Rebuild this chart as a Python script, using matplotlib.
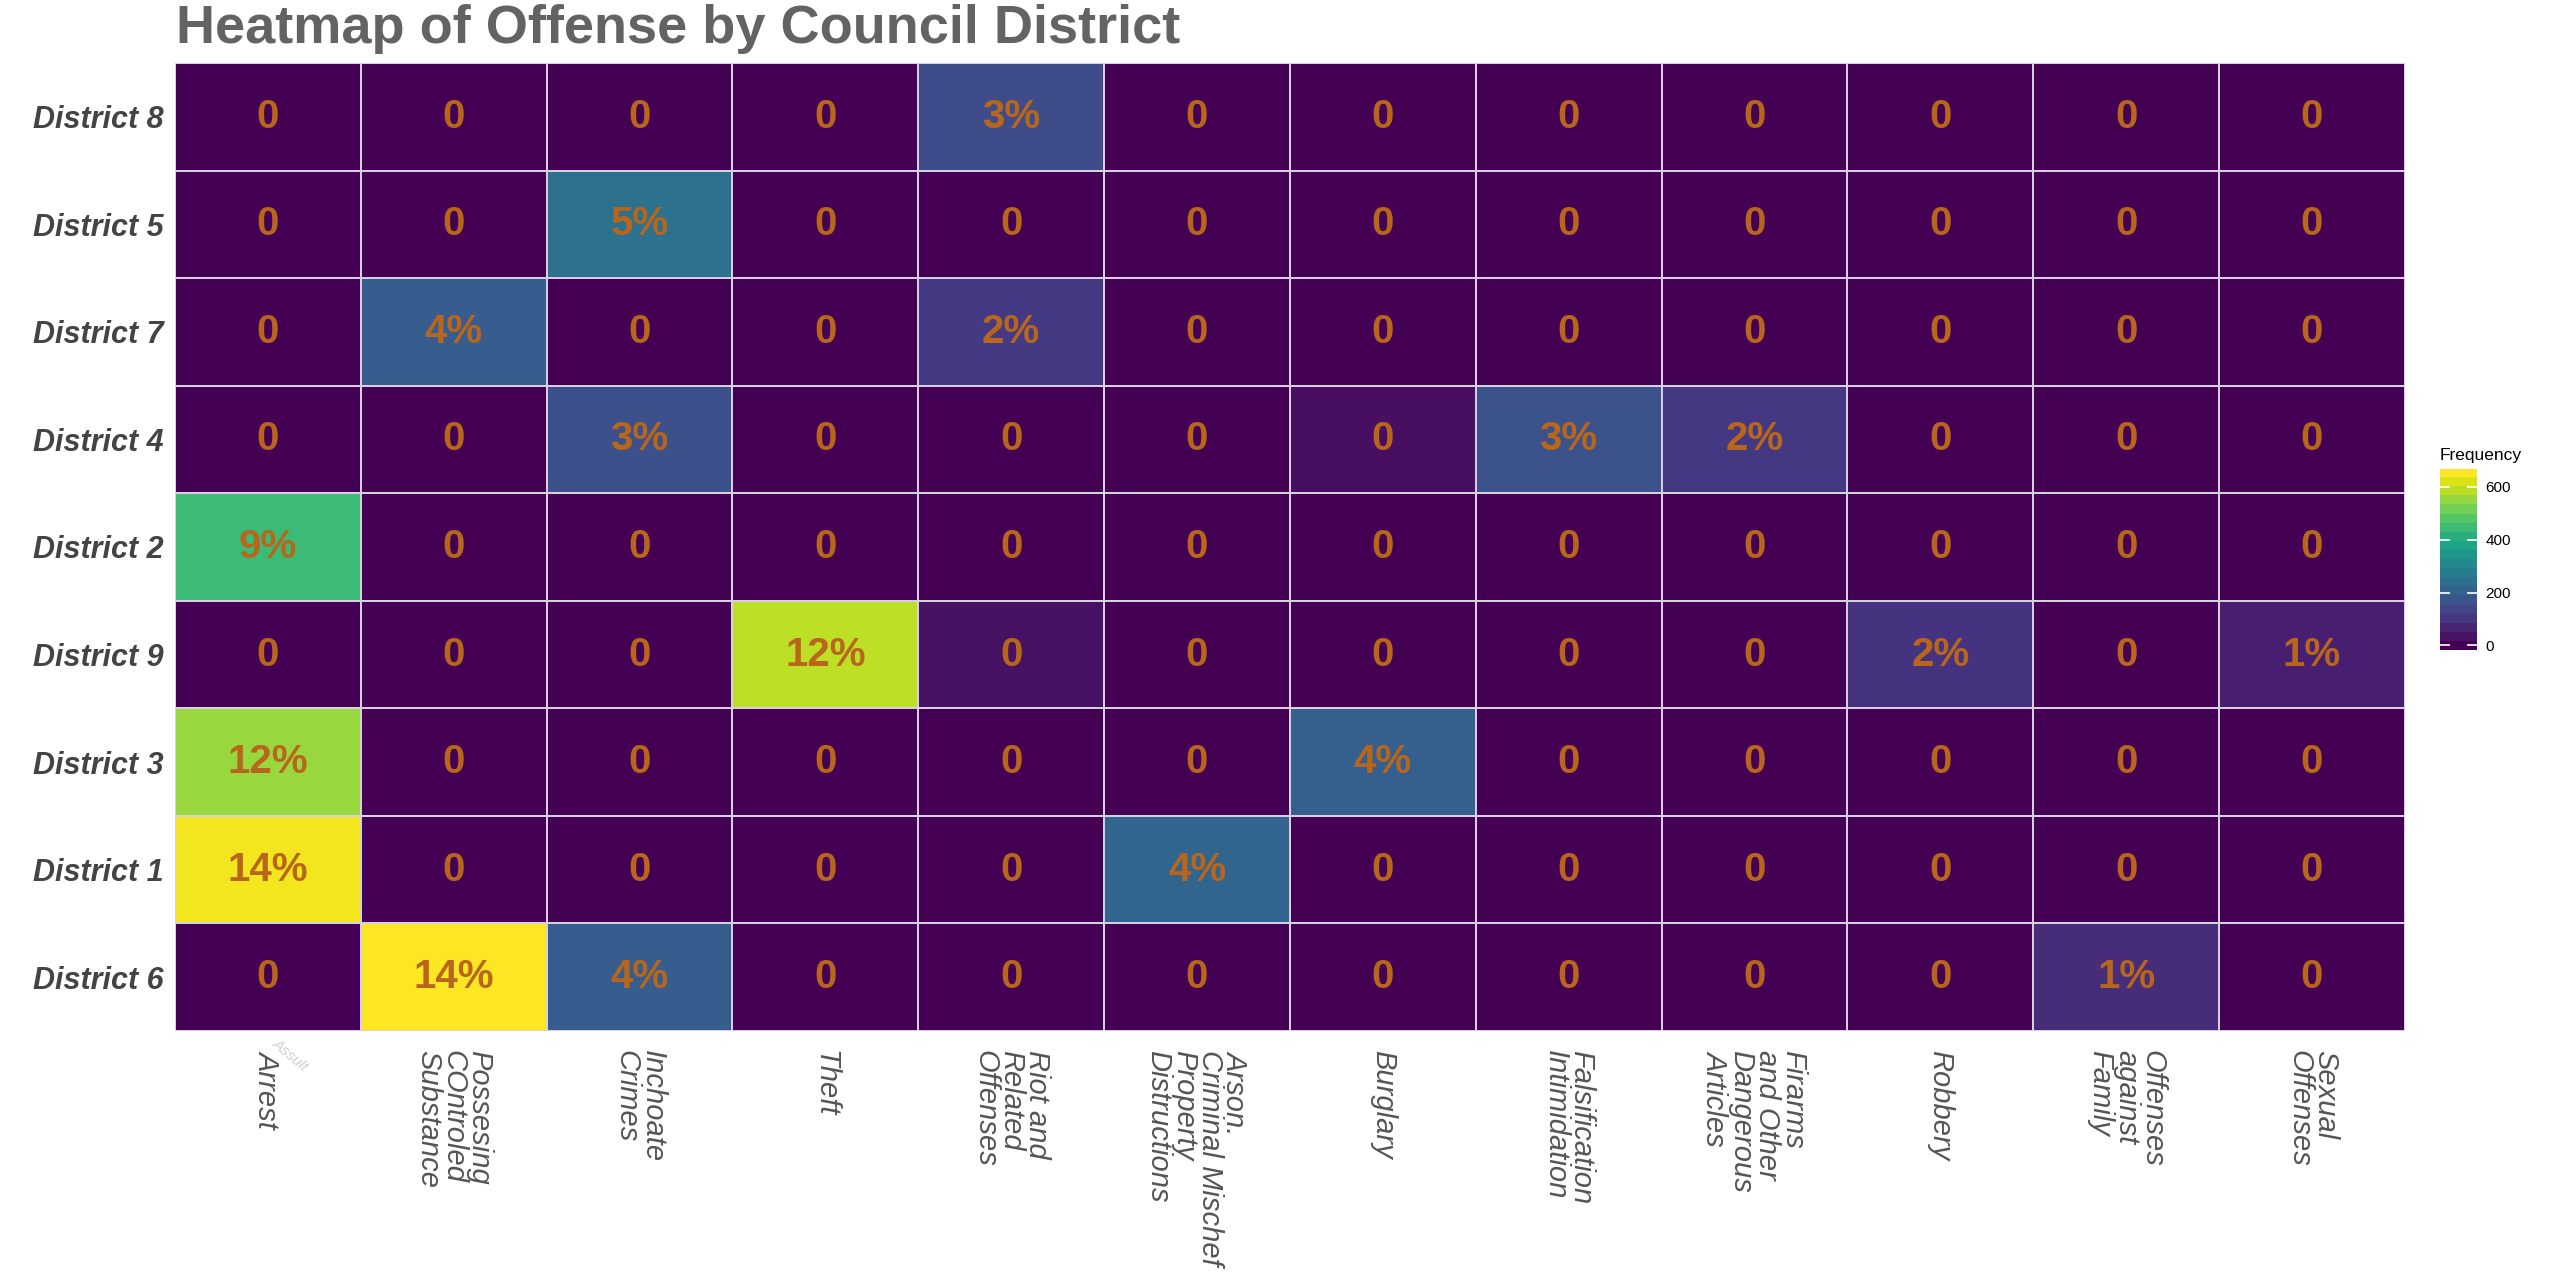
import numpy as np
import matplotlib
matplotlib.use("Agg")
import matplotlib.pyplot as plt
from matplotlib.colors import Normalize

# rows as shown, top to bottom
districts = ["District 8", "District 5", "District 7", "District 4", "District 2",
             "District 9", "District 3", "District 1", "District 6"]
offenses = ["Arrest",
            "Possesing\nCOntroled\nSubstance",
            "Inchoate\nCrimes",
            "Theft",
            "Riot and\nRelated\nOffenses",
            "Arson.\nCriminal Mischef\nProperty\nDistructions",
            "Burglary",
            "Falsification\nIntimidation",
            "Firarms\nand Other\nDangerous\nArticles",
            "Robbery",
            "Offenses\nagainst\nFamily",
            "Sexual\nOffenses"]

# estimated counts read from the tile colours
freq = [
    [0,   0,   0,   0,   150, 0,   0,   0,   0,   0,  0,  0],
    [0,   0,   245, 0,   0,   0,   0,   0,   0,   0,  0,  0],
    [0,   190, 0,   0,   110, 0,   0,   0,   0,   0,  0,  0],
    [0,   0,   160, 0,   0,   0,   25,  165, 105, 0,  0,  0],
    [445, 0,   0,   0,   0,   0,   0,   0,   0,   0,  0,  0],
    [0,   0,   0,   585, 30,  0,   0,   0,   0,   95, 0,  55],
    [550, 0,   0,   0,   0,   0,   195, 0,   0,   0,  0,  0],
    [640, 0,   0,   0,   0,   210, 0,   0,   0,   0,  0,  0],
    [0,   651, 190, 0,   0,   0,   0,   0,   0,   0,  80, 0],
]

pct = [
    ["0", "0", "0", "0", "3%", "0", "0", "0", "0", "0", "0", "0"],
    ["0", "0", "5%", "0", "0", "0", "0", "0", "0", "0", "0", "0"],
    ["0", "4%", "0", "0", "2%", "0", "0", "0", "0", "0", "0", "0"],
    ["0", "0", "3%", "0", "0", "0", "0", "3%", "2%", "0", "0", "0"],
    ["9%", "0", "0", "0", "0", "0", "0", "0", "0", "0", "0", "0"],
    ["0", "0", "0", "12%", "0", "0", "0", "0", "0", "2%", "0", "1%"],
    ["12%", "0", "0", "0", "0", "0", "4%", "0", "0", "0", "0", "0"],
    ["14%", "0", "0", "0", "0", "4%", "0", "0", "0", "0", "0", "0"],
    ["0", "14%", "4%", "0", "0", "0", "0", "0", "0", "0", "1%", "0"],
]

cbar_ticks = [0, 200, 400, 600]

plt.rcParams["font.family"] = ["Liberation Sans", "DejaVu Sans"]

fig = plt.figure(figsize=(25.5, 12.75), dpi=100)
ax = fig.add_axes([0.0686, 0.1914, 0.8745, 0.7592])

data = np.array(freq, dtype=float)
norm = Normalize(vmin=0, vmax=data.max())
nr, nc = data.shape
mesh = ax.pcolormesh(np.arange(nc + 1), np.arange(nr + 1), data, cmap="viridis",
                     norm=norm, edgecolors="#d9cfe3", linewidth=1.3)
ax.set_xlim(0, nc)
ax.set_ylim(nr, 0)

for i in range(nr):
    for j in range(nc):
        ax.text(j + 0.5, i + 0.5, pct[i][j], ha="center", va="center",
                fontsize=29, fontweight="bold", color="#b8661c")

ax.set_xticks(np.arange(nc) + 0.5)
ax.set_xticklabels(offenses, rotation=270, ha="center", va="top",
                   multialignment="left", fontsize=21, style="italic",
                   color="#555555", linespacing=0.9)
ax.set_yticks(np.arange(nr) + 0.5)
ax.set_yticklabels(districts, fontsize=22, fontweight="bold", style="italic",
                   color="#444444")
ax.tick_params(length=0, pad=8)
ax.tick_params(axis="x", pad=14)
for s in ax.spines.values():
    s.set_visible(False)

# faint overlapping label left under the first column
ax.text(0.62, -0.025, "Assult", transform=ax.get_xaxis_transform(), rotation=-40,
        ha="center", va="center", fontsize=11, color="#cfcfcf", style="italic")

fig.text(0.069, 0.977, "Heatmap of Offense by Council District", ha="left",
         va="center", fontsize=39, fontweight="bold", color="#636363")

# colour bar drawn in ggplot style (20 bins, half bin margin)
cax = fig.add_axes([0.9568, 0.4902, 0.0145, 0.1420])
vmax = data.max()
step = vmax / 19
edges = np.linspace(-step / 2, vmax + step / 2, 21)
centers = (edges[:-1] + edges[1:]) / 2
cax.imshow(np.clip(centers, 0, vmax)[:, None], cmap="viridis", norm=norm,
           aspect="auto", origin="lower", extent=[0, 1, edges[0], edges[-1]])
cax.set_xlim(0, 1)
cax.set_ylim(edges[0], edges[-1])
cax.set_xticks([])
cax.set_yticks(cbar_ticks)
cax.yaxis.tick_right()
cax.tick_params(axis="y", direction="in", length=7, width=1.2, color="white",
                left=True, right=True, labelleft=False, labelright=True,
                labelsize=11, labelcolor="black", pad=6)
for s in cax.spines.values():
    s.set_visible(False)
fig.text(0.9568, 0.643, "Frequency", ha="left", va="center", fontsize=12.5,
         color="black")

fig.savefig("out.png", dpi=100)
